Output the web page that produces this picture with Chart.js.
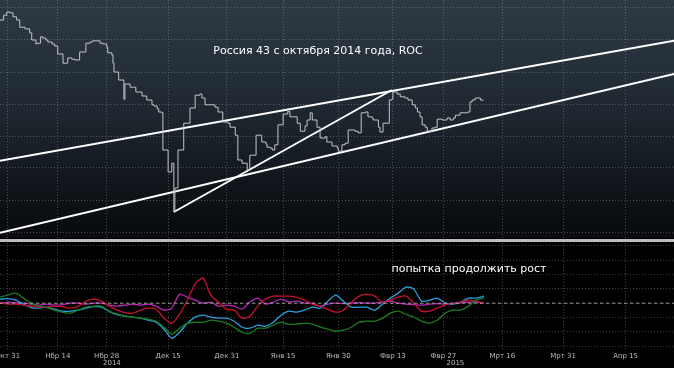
<!DOCTYPE html>
<html>
<head>
<meta charset="utf-8">
<script src="https://cdn.jsdelivr.net/npm/chart.js@4.4.0/dist/chart.umd.min.js"></script>
<style>
  html, body { margin: 0; padding: 0; background: #000; }
  #wrap { position: relative; width: 674px; height: 368px; overflow: hidden; background: #000; }
  #topBox { position: absolute; left: 0; top: 0; width: 674px; height: 238px;
    background: linear-gradient(#2c3843 0%, #27323c 22%, #1f2831 45%, #151b22 68%, #0c0f13 88%, #090b0e 100%); }
  #sep { position: absolute; left: 0; top: 239px; width: 674px; height: 3px; background: #bdbdbd; }
  #botBox { position: absolute; left: 0; top: 243px; width: 674px; height: 125px; background: #000; }
  canvas { display: block; }
  .note { position: absolute; color: #fff; font: 11px "DejaVu Sans", sans-serif;
    white-space: nowrap; transform: translate(-50%, -50%); }
</style>
</head>
<body>
<div id="wrap">
  <div id="topBox"><canvas id="chartTop" width="674" height="238"></canvas></div>
  <div id="sep"></div>
  <div id="botBox"><canvas id="chartRoc" width="674" height="125"></canvas></div>
  <div class="note" style="left:318px; top:50px;">Россия 43 с октября 2014 года, ROC</div>
  <div class="note" style="left:469px; top:268px;">попытка продолжить рост</div>
</div>
<script>
// x axis: trading days counted from Oct 31 2014
const xMin = -1.5, xMax = 128;
const tickDays = [0, 9.6, 19, 30.8, 42.1, 52.9, 63.5, 74, 83.7, 95, 106.7, 118.7];
const tickLabels = ['Окт 31', 'Нбр 14', 'Нбр 28', 'Дек 15', 'Дек 31', 'Янв 15', 'Янв 30', 'Фвр 13', 'Фвр 27', 'Мрт 16', 'Мрт 31', 'Апр 15'];
const yearDays = [20, 86];
const yearLabels = ['2014', '2015'];

// price panel
const priceTicks = [72, 76, 80, 84, 88, 92, 96, 100];
const priceDays = [-1.5, -0.8, -0.2, 0.4, 1.0, 1.7, 2.3, 3.3, 4.2, 4.6, 5.4, 5.6, 6.3, 6.7, 7.3, 7.7, 8.5, 9.0, 9.6, 10.6,
  11.5, 12.3, 12.9, 13.8, 15.0, 15.8, 16.3, 17.7, 18.3, 19.0, 19.2, 20.0, 20.2, 20.4, 21.3, 22.3, 22.5, 23.5, 24.6, 25.8,
  26.7, 27.7, 28.1, 28.7, 29.0, 29.6, 29.8, 30.8, 31.5, 31.9, 32.1, 32.7, 33.8, 35.0, 36.0, 36.9, 37.3, 37.9, 39.8, 40.4,
  41.3, 42.3, 42.7, 43.7, 44.2, 45.0, 46.0, 46.5, 47.7, 48.8, 49.6, 49.8, 50.4, 50.8, 51.3, 51.9, 52.9, 53.8, 54.2, 55.6,
  56.2, 57.1, 57.5, 58.1, 58.5, 59.4, 60.0, 61.0, 61.3, 62.3, 63.3, 63.5, 64.2, 64.8, 65.4, 66.7, 67.3, 67.9, 68.7, 69.2,
  70.0, 70.2, 71.2, 71.5, 72.1, 73.3, 73.8, 74.0, 74.8, 75.4, 76.3, 76.9, 77.7, 78.3, 78.7, 79.2, 79.6, 80.2, 80.6, 81.5,
  82.1, 82.5, 83.5, 84.4, 85.0, 85.6, 86.0, 86.9, 88.3, 88.8, 89.2, 89.8, 90.8, 91.3];
const priceValues = [98.5, 99.1, 99.5, 99.4, 98.9, 98.5, 97.6, 97.4, 96.9, 96.0, 95.5, 95.6, 96.4, 96.25, 96.0, 95.75, 95.5, 95.25, 94.25, 93.1,
  93.75, 93.6, 93.5, 94.5, 95.6, 95.75, 95.9, 95.6, 95.5, 95.1, 94.4, 94.1, 93.1, 92.0, 91.0, 88.6, 90.5, 90.1, 89.5, 89.0,
  88.5, 87.9, 87.75, 87.4, 87.0, 86.9, 82.25, 79.5, 80.6, 74.5, 77.5, 82.25, 85.6, 87.5, 89.1, 89.25, 88.75, 87.9, 87.6, 87.0,
  85.75, 85.6, 85.1, 84.1, 81.0, 80.6, 79.75, 81.6, 84.1, 83.25, 83.0, 82.6, 82.5, 82.25, 82.9, 85.4, 86.75, 87.1, 86.4, 85.6,
  84.6, 85.25, 86.0, 86.9, 86.0, 85.1, 83.75, 83.9, 83.25, 82.75, 82.5, 82.1, 82.9, 83.1, 84.75, 84.6, 84.4, 86.9, 87.0, 86.4,
  86.25, 86.0, 85.1, 84.5, 85.6, 88.5, 88.6, 89.5, 89.25, 88.9, 88.75, 88.5, 87.9, 87.5, 87.0, 86.4, 85.4, 85.1, 84.6, 85.0,
  85.1, 86.1, 86.0, 86.25, 86.0, 86.25, 86.6, 86.9, 87.0, 88.25, 88.5, 88.75, 88.5, 88.4];

// trend lines
const channelDays = [-1.5, 128];
const upperChannel = [80.9, 95.9];
const lowerChannel = [71.9, 91.75];
const diagonalDays = [31.9, 73.8];
const diagonalValues = [74.5, 89.75];

// ROC panel
const rocTicks = [-3, -2, -1, 0, 1, 2, 3, 4];
const rocDays = [-1.5, 0, 1.5, 3, 4.5, 6, 7.5, 9, 10.5, 12, 13.5, 15, 16.5, 18, 19.5, 21, 22.5, 24, 25.5, 27, 28.5,
  30, 31.5, 33, 34.5, 36, 37.5, 39, 40.5, 42, 43.5, 45, 46.5, 48, 49.5, 51, 52.5, 54, 55.5, 57, 58.5,
  60, 61.5, 63, 64.5, 66, 67.5, 69, 70.5, 72, 73.5, 75, 76.5, 78, 79.5, 81, 82.5, 84, 85.5, 87, 88.5, 90, 91.5];
const rocGreen = [0.42, 0.56, 0.70, 0.35, 0.00, -0.21, -0.31, -0.49, -0.63, -0.70, -0.49, -0.28, -0.21, -0.21, -0.56, -0.77,
  -0.91, -0.98, -1.05, -1.12, -1.26, -1.68, -2.17, -1.75, -1.40, -1.33, -1.33, -1.19, -1.26, -1.40, -1.68, -2.03, -2.10,
  -1.75, -1.75, -1.54, -1.33, -1.47, -1.47, -1.40, -1.47, -1.68, -1.82, -1.96, -1.89, -1.68, -1.33, -1.26, -1.26, -1.05,
  -0.70, -0.56, -0.77, -0.98, -1.26, -1.40, -1.19, -0.70, -0.49, -0.49, -0.21, 0.21, 0.35];
const rocBlue = [0.28, 0.31, 0.21, -0.07, -0.31, -0.35, -0.28, -0.42, -0.56, -0.56, -0.49, -0.35, -0.24, -0.28, -0.59, -0.80,
  -0.91, -0.98, -1.05, -1.19, -1.33, -1.82, -2.45, -2.03, -1.40, -0.98, -0.84, -0.98, -1.05, -1.05, -1.26, -1.68, -1.75,
  -1.54, -1.61, -1.33, -0.84, -0.56, -0.63, -0.49, -0.28, -0.35, 0.14, 0.56, 0.14, -0.28, -0.28, -0.28, -0.49, -0.07,
  0.35, 0.70, 1.12, 0.98, 0.14, 0.21, 0.35, 0.00, -0.07, 0.07, 0.35, 0.35, 0.49];
const rocRed = [0.00, -0.07, -0.07, -0.14, -0.21, -0.28, -0.28, -0.21, -0.24, -0.35, -0.21, 0.14, 0.28, 0.14, -0.21, -0.49,
  -0.66, -0.70, -0.49, -0.35, -0.42, -1.05, -1.40, -0.77, 0.21, 1.33, 1.75, 0.56, 0.07, -0.42, -0.49, -1.05, -0.91,
  -0.21, 0.28, 0.49, 0.49, 0.49, 0.42, 0.21, -0.07, -0.21, -0.42, -0.63, -0.49, 0.07, 0.49, 0.63, 0.49, 0.07,
  0.21, 0.42, 0.49, 0.00, -0.56, -0.56, -0.35, -0.14, 0.00, 0.07, 0.21, 0.14, 0.00];
const rocMagenta = [0.00, 0.07, 0.03, 0.00, -0.07, -0.14, -0.07, -0.14, -0.10, 0.00, 0.00, -0.07, 0.00, 0.00, -0.14, -0.21,
  -0.14, -0.07, -0.14, -0.07, -0.21, -0.49, -0.35, 0.63, 0.42, 0.21, 0.00, 0.07, -0.21, -0.14, -0.21, -0.42, 0.07,
  0.35, -0.07, 0.07, 0.28, 0.07, 0.14, 0.00, 0.00, -0.21, -0.07, 0.00, -0.03, 0.00, 0.03, 0.00, 0.00, 0.07,
  0.14, 0.00, -0.07, -0.10, -0.14, -0.07, -0.03, -0.07, -0.03, 0.03, 0.07, 0.07, 0.00];

const pts = (xs, ys) => xs.map((x, i) => ({ x: x, y: ys[i] }));
const gridColor = 'rgba(200, 200, 200, 0.32)';

function hiddenY(min, max, ticks) {
  return {
    type: 'linear', min: min, max: max,
    afterBuildTicks: s => { s.ticks = ticks.map(v => ({ value: v })); },
    afterFit: s => { s.width = 0; },
    ticks: { display: false },
    grid: { color: gridColor, drawTicks: false },
    border: { display: false, dash: [1, 2] }
  };
}

function xAxis(showLabels) {
  return {
    type: 'linear', min: xMin, max: xMax,
    afterBuildTicks: s => { s.ticks = tickDays.map(v => ({ value: v })); },
    afterFit: s => { s.height = showLabels ? 19 : 0; s.paddingLeft = 0; s.paddingRight = 0; },
    ticks: {
      display: showLabels, autoSkip: false, maxRotation: 0, padding: 3,
      color: '#bcbcbc', font: { family: 'DejaVu Sans', size: 7 },
      callback: (v, i) => tickLabels[i]
    },
    grid: { color: gridColor, drawTicks: false },
    border: { display: false, dash: [1, 2] }
  };
}

const baseOptions = {
  responsive: false, animation: false,
  layout: { padding: 0 },
  plugins: { legend: { display: false }, tooltip: { enabled: false } },
  elements: { point: { radius: 0 } }
};

new Chart(document.getElementById('chartTop'), {
  type: 'line',
  data: {
    datasets: [
      { data: pts(priceDays, priceValues), stepped: true, borderColor: '#c4c4c4', borderWidth: 1 },
      { data: pts(channelDays, upperChannel), borderColor: '#ffffff', borderWidth: 2 },
      { data: pts(channelDays, lowerChannel), borderColor: '#ffffff', borderWidth: 2 },
      { data: pts(diagonalDays, diagonalValues), borderColor: '#ffffff', borderWidth: 2 }
    ]
  },
  options: Object.assign({}, baseOptions, {
    scales: { x: xAxis(false), y: hiddenY(71.25, 101, priceTicks) }
  })
});

const yearPlugin = {
  id: 'years',
  afterDraw(chart) {
    const ctx = chart.ctx, x = chart.scales.x;
    ctx.save();
    ctx.fillStyle = '#bcbcbc';
    ctx.font = '7px "DejaVu Sans"';
    ctx.textAlign = 'center';
    ctx.textBaseline = 'middle';
    yearDays.forEach((d, i) => ctx.fillText(yearLabels[i], x.getPixelForValue(d), chart.chartArea.bottom + 14));
    ctx.restore();
  }
};

new Chart(document.getElementById('chartRoc'), {
  type: 'line',
  data: {
    datasets: [
      { data: pts(channelDays, [0, 0]), borderColor: 'rgba(175,175,175,0.85)', borderWidth: 1, borderDash: [3, 3] },
      { data: pts(rocDays, rocGreen), borderColor: '#1b7a22', borderWidth: 1.3, tension: 0.25 },
      { data: pts(rocDays, rocRed), borderColor: '#c8102e', borderWidth: 1.3, tension: 0.25 },
      { data: pts(rocDays, rocBlue), borderColor: '#27a0dc', borderWidth: 1.3, tension: 0.25 },
      { data: pts(rocDays, rocMagenta), borderColor: '#b62ab6', borderWidth: 1.3, tension: 0.25 }
    ]
  },
  options: Object.assign({}, baseOptions, {
    scales: { x: xAxis(true), y: hiddenY(-3.2, 4.2, rocTicks) }
  }),
  plugins: [yearPlugin]
});
</script>
</body>
</html>
